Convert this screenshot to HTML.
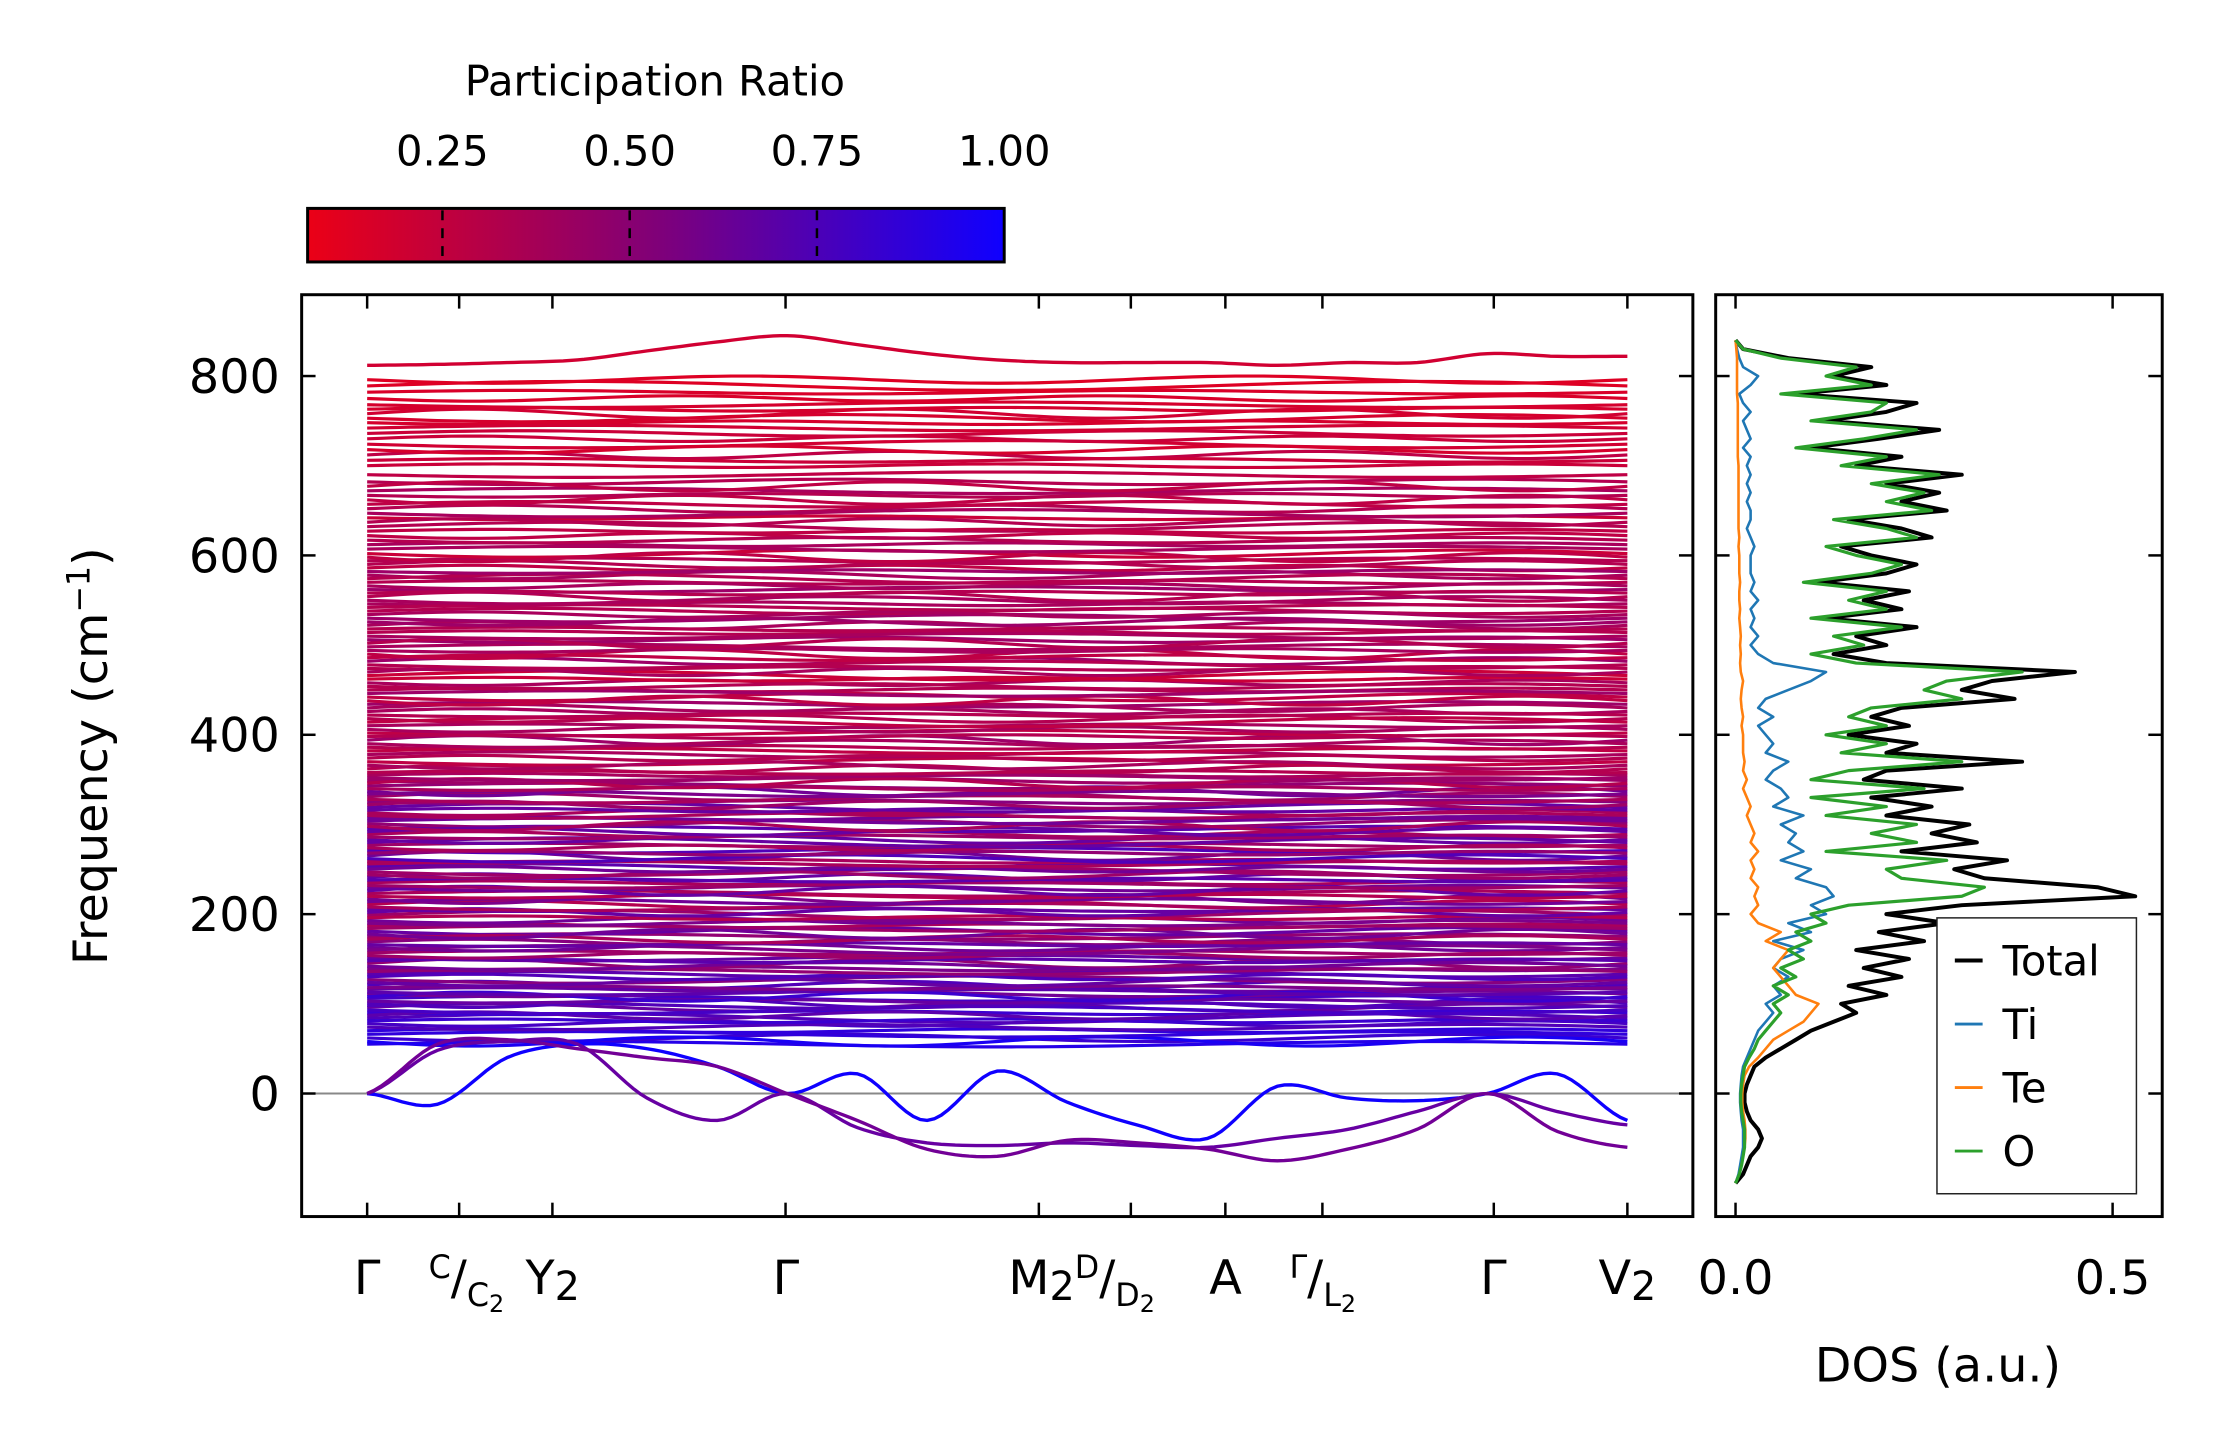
<!DOCTYPE html>
<html><head><meta charset="utf-8"><style>
html,body{margin:0;padding:0;background:#fff}
svg{display:block;font-family:"DejaVu Sans","Liberation Sans",sans-serif}
</style></head><body>
<svg id="fig" width="2222" height="1455" viewBox="0 0 2222 1455" xmlns="http://www.w3.org/2000/svg">
<defs>
<linearGradient id="cbg" x1="0" x2="1" y1="0" y2="0">
<stop offset="0" stop-color="rgb(235,0,22)"/>
<stop offset="0.5" stop-color="rgb(128,0,120)"/>
<stop offset="1" stop-color="rgb(15,0,255)"/>
</linearGradient>
<clipPath id="mainclip"><rect x="304" y="297" width="1402" height="929"/></clipPath>
<clipPath id="dosclip"><rect x="1729" y="297" width="450" height="929"/></clipPath>
</defs>
<g id="root" transform="scale(0.9923)">
<g id="colorbar">
<text x="660" y="96" font-size="42" text-anchor="middle">Participation Ratio</text>
<rect x="310" y="210" width="702" height="54" fill="url(#cbg)" stroke="#000" stroke-width="3"/>
</g>
<g id="bands" clip-path="url(#mainclip)"></g>
<g id="mainaxes"></g>
<g id="dos" clip-path="url(#dosclip)"></g>
<g id="dosaxes"></g>
<text transform="translate(108,762) rotate(-90)" font-size="48" text-anchor="middle">Frequency (cm<tspan dy="-18" font-size="32">−1</tspan><tspan dy="18">)</tspan></text>
<text x="1953" y="1392" font-size="48" text-anchor="middle">DOS (a.u.)</text>
</g>
</svg>
<script>
const NS="http://www.w3.org/2000/svg";
// ---- data ----
const cbTicks=[0.25,0.5,0.75,1.0];
const cbTickLabels=["0.25","0.50","0.75","1.00"];
const yTicks=[0,200,400,600,800];
const kNodes=[0,0.073,0.147,0.332,0.533,0.606,0.681,0.758,0.894,1.0];
const kLabels=["Γ","C","Y2","Γ","M2","D","A","Γ/L2","Γ","V2"];
const baseFreqs=[55,62,70,78,84,90,96,101,106,111,116,121,127,133,139,145,151,157,163,169,175,181,187,193,199,205,211,217,223,229,235,241,247,253,259,265,271,277,283,289,295,301,307,313,319,325,331,337,343,349,355,362,370,378,386,394,402,410,418,426,434,442,450,458,466,474,482,490,498,506,514,522,530,538,546,554,562,570,578,586,594,602,612,622,632,642,652,662,672,682,700,712,724,736,748,758,768,782,796];
const baseFreqs2=[58,66,74,81,87,93,98,103,108,113,118,124,130,136,142,148,154,160,166,172,178,184,190,196,202,208,214,220,226,232,238,244,250,256,262,268,274,280,286,292,298,304,310,316,322,328,334,340,346,352,358,366,374,382,390,398,406,414,422,430,438,446,454,462,470,478,486,494,502,510,518,526,534,542,550,558,566,574,582,590,598,607,617,627,637,647,657,667,677,690,706,718,730,742,753,763,775,789];
const bandWiggle=[3,-4,2,-3,5,-2,4,-5,3,-3,2,4,-4,3,-2,5,-3,2,-4,3];
const bandPR=[0.9,0.8,0.85,0.75,0.7,0.8,0.6,0.7,0.75,0.55,
0.6,0.7,0.45,0.65,0.5,0.4,0.6,0.35,0.55,0.45,
0.4,0.6,0.3,0.55,0.35,0.6,0.25,0.5,0.3,0.55,
0.3,0.6,0.35,0.65,0.3,0.55,0.7,0.35,0.6,0.3,
0.65,0.4,0.55,0.3,0.6,0.45,0.35,0.55,0.4,0.35,
0.3,0.25,0.2,0.3,0.25,0.35,0.2,0.3,0.25,0.3,
0.35,0.2,0.25,0.3,0.15,0.25,0.35,0.2,0.3,0.35,
0.25,0.3,0.35,0.25,0.3,0.25,0.35,0.25,0.3,0.2,
0.25,0.15,0.3,0.2,0.25,0.15,0.25,0.2,0.3,0.25,
0.15,0.2,0.12,0.15,0.1,0.12,0.1,0.08,0.06];
const bandPR2=[0.95,0.85,0.7,0.8,0.65,0.75,0.7,0.6,0.8,0.65,
0.5,0.6,0.7,0.4,0.55,0.65,0.35,0.5,0.6,0.3,
0.55,0.35,0.5,0.25,0.6,0.3,0.55,0.25,0.6,0.35,
0.65,0.35,0.55,0.3,0.7,0.4,0.3,0.6,0.35,0.6,
0.3,0.55,0.3,0.6,0.35,0.3,0.5,0.3,0.25,0.35,
0.25,0.3,0.25,0.2,0.3,0.25,0.3,0.2,0.25,0.3,
0.2,0.35,0.25,0.15,0.3,0.25,0.2,0.3,0.25,0.3,
0.25,0.35,0.3,0.25,0.3,0.25,0.3,0.25,0.35,0.25,
0.2,0.3,0.25,0.2,0.25,0.3,0.2,0.25,0.2,0.2,
0.15,0.1,0.15,0.12,0.1,0.1,0.08,0.06];
// special bands sampled at 19 evenly spaced k points
const specK=[0,0.0556,0.111,0.167,0.222,0.278,0.333,0.389,0.444,0.5,0.556,0.611,0.667,0.722,0.778,0.833,0.889,0.944,1.0];
const specBand1=[0,-12,40,55,50,30,0,22,-30,25,-10,-35,-50,8,-5,-8,0,22,-30];
const specBand2=[0,48,58,55,-5,-30,0,-38,-55,-58,-55,-58,-60,-50,-40,-20,0,-20,-35];
const specBand3=[0,55,60,50,40,30,0,-30,-62,-70,-52,-55,-62,-75,-62,-40,0,-42,-60];
const specBand4=[812,813,815,818,828,838,845,835,825,818,815,815,815,812,815,815,825,822,822];
const specPR=[1.0,0.6,0.55,0.12];
const dosFreq0=-100, dosStep=10;
const dosTotal=[0,0.01,0.015,0.02,0.03,0.035,0.03,0.02,0.015,0.012,
0.012,0.015,0.02,0.025,0.04,0.06,0.08,0.1,0.13,0.16,
0.14,0.2,0.15,0.22,0.17,0.23,0.16,0.25,0.19,0.28,
0.2,0.3,0.53,0.48,0.33,0.29,0.36,0.22,0.32,0.26,
0.31,0.2,0.26,0.18,0.3,0.17,0.2,0.38,0.2,0.24,
0.15,0.23,0.18,0.22,0.37,0.3,0.34,0.45,0.2,0.13,
0.2,0.16,0.24,0.12,0.22,0.17,0.23,0.11,0.2,0.24,
0.18,0.14,0.26,0.22,0.15,0.28,0.22,0.27,0.2,0.3,
0.16,0.22,0.1,0.19,0.27,0.12,0.2,0.24,0.08,0.2,
0.13,0.18,0.07,0.01,0];
const dosO=[0,0.005,0.008,0.01,0.012,0.012,0.012,0.01,0.008,0.007,
0.007,0.008,0.01,0.012,0.018,0.025,0.03,0.04,0.05,0.06,
0.05,0.07,0.05,0.08,0.06,0.09,0.07,0.1,0.08,0.12,
0.1,0.15,0.3,0.33,0.22,0.2,0.28,0.12,0.24,0.18,
0.24,0.12,0.2,0.1,0.25,0.1,0.15,0.3,0.14,0.2,
0.12,0.2,0.15,0.18,0.3,0.25,0.28,0.38,0.16,0.1,
0.17,0.13,0.22,0.1,0.2,0.15,0.2,0.09,0.18,0.22,
0.16,0.12,0.24,0.2,0.13,0.26,0.2,0.25,0.18,0.27,
0.14,0.2,0.08,0.17,0.24,0.1,0.18,0.2,0.06,0.18,
0.12,0.16,0.06,0.01,0];
const dosTi=[0,0.004,0.006,0.008,0.01,0.01,0.01,0.008,0.007,0.006,
0.006,0.007,0.008,0.01,0.015,0.02,0.025,0.03,0.04,0.05,
0.04,0.06,0.05,0.07,0.05,0.06,0.09,0.05,0.1,0.07,
0.12,0.1,0.13,0.12,0.08,0.1,0.06,0.09,0.07,0.08,
0.06,0.09,0.05,0.07,0.06,0.04,0.05,0.07,0.04,0.05,
0.04,0.03,0.05,0.03,0.04,0.07,0.1,0.12,0.05,0.03,
0.02,0.03,0.02,0.025,0.02,0.03,0.02,0.025,0.02,0.02,
0.02,0.025,0.02,0.015,0.02,0.02,0.015,0.02,0.015,0.02,
0.015,0.02,0.01,0.02,0.015,0.01,0.02,0.01,0.005,0.02,
0.03,0.01,0.005,0.002,0];
const dosTe=[0,0.005,0.008,0.01,0.012,0.013,0.013,0.012,0.01,0.009,
0.009,0.01,0.012,0.018,0.03,0.04,0.05,0.07,0.09,0.1,
0.11,0.08,0.07,0.06,0.05,0.06,0.07,0.04,0.06,0.03,
0.02,0.03,0.025,0.03,0.02,0.025,0.02,0.03,0.02,0.025,
0.02,0.015,0.02,0.015,0.01,0.015,0.01,0.012,0.01,0.01,
0.01,0.008,0.01,0.008,0.007,0.008,0.01,0.007,0.006,0.007,
0.006,0.007,0.006,0.005,0.006,0.005,0.005,0.006,0.005,0.005,
0.005,0.004,0.005,0.004,0.004,0.004,0.004,0.004,0.004,0.004,
0.004,0.003,0.003,0.003,0.003,0.003,0.003,0.003,0.002,0.002,
0.002,0.002,0.002,0.001,0];
const dosTicks=[0,0.5];
const dosTickLabels=["0.0","0.5"];
const legendNames=["Total","Ti","Te","O"];
const legendColors=["#000","#1f77b4","#ff7f0e","#2ca02c"];
// ---- scales ----
const yS=f=>1102-(f)*0.9038;
const kX=k=>370+k*1270;
const dX=d=>1749+d*760;
const cbX=v=>310+(v-0.07)/(0.93)*702;
function prColor(p){p=Math.max(0,Math.min(1,p));const r=Math.round(235+(15-235)*p),b=Math.round(22+(255-22)*p);return `rgb(${r},0,${b})`;}
function el(tag,attrs,parent){const e=document.createElementNS(NS,tag);for(const a in attrs)e.setAttribute(a,attrs[a]);parent.appendChild(e);return e;}
const root=document.getElementById('root');
// colorbar ticks
const cb=document.getElementById('colorbar');
cbTicks.forEach((t,i)=>{const x=cbX(t);
 if(t<1){const l=el('line',{x1:x,x2:x,y1:212,y2:262,stroke:'#000','stroke-width':2.5,'stroke-dasharray':'10,8'},cb);
 
 }
 const tx=el('text',{x:x,y:167,'font-size':42,'text-anchor':'middle'},cb);tx.textContent=cbTickLabels[i];
 
 
});
// bands
const bg=document.getElementById('bands');
const zl=el('line',{x1:304,x2:1706,y1:yS(0),y2:yS(0),stroke:'#888','stroke-width':2},bg);


const N=90;
function drawSet(freqs,prs,phase){
 freqs.forEach((f,i)=>{const w=bandWiggle[(i+phase)%bandWiggle.length];let d='';
  for(let j=0;j<=N;j++){const k=j/N;const y=f+w*Math.sin(k*Math.PI*(3+((i+phase)%4)));d+=(j?'L':'M')+kX(k).toFixed(1)+','+yS(y).toFixed(1);}
  const p=el('path',{d:d,fill:'none',stroke:prColor(prs[i]),'stroke-width':3.2},bg);
  
  
 });
}
drawSet(baseFreqs,bandPR,0);
drawSet(baseFreqs2,bandPR2,7);
function interp(ks,vs,k){let i=0;while(i<ks.length-2&&k>ks[i+1])i++;const t=(k-ks[i])/(ks[i+1]-ks[i]);
 const p0=vs[Math.max(0,i-1)],p1=vs[i],p2=vs[i+1],p3=vs[Math.min(vs.length-1,i+2)];
 return 0.5*((2*p1)+(-p0+p2)*t+(2*p0-5*p1+4*p2-p3)*t*t+(-p0+3*p1-3*p2+p3)*t*t*t);}
[specBand1,specBand2,specBand3,specBand4].forEach((vs,si)=>{let d='';
 for(let j=0;j<=180;j++){const k=j/180;d+=(j?'L':'M')+kX(k).toFixed(1)+','+yS(interp(specK,vs,k)).toFixed(1);}
 const p=el('path',{d:d,fill:'none',stroke:prColor(specPR[si]),'stroke-width':3.4},bg);
 
 
});
// main axes
const ma=document.getElementById('mainaxes');
el('rect',{x:304,y:297,width:1402,height:929,fill:'none',stroke:'#000','stroke-width':3},ma);
kNodes.forEach((k,i)=>{const x=kX(k);
 el('line',{x1:x,x2:x,y1:1226,y2:1212,stroke:'#000','stroke-width':2.5},ma);
 el('line',{x1:x,x2:x,y1:297,y2:311,stroke:'#000','stroke-width':2.5},ma);
});
yTicks.forEach(t=>{const y=yS(t);
 el('line',{x1:304,x2:318,y1:y,y2:y,stroke:'#000','stroke-width':2.5},ma);
 el('line',{x1:1706,x2:1692,y1:y,y2:y,stroke:'#000','stroke-width':2.5},ma);
 const tx=el('text',{x:282,y:y+17,'font-size':48,'text-anchor':'end'},ma);tx.textContent=String(t);
 
 
});
// k labels
const kl=[
 [0,'<tspan>Γ</tspan>'],
 [1,'<tspan dy="-16" font-size="32">C</tspan><tspan dy="16">/</tspan><tspan dy="12" font-size="32">C</tspan><tspan dy="6" font-size="24">2</tspan>'],
 [2,'<tspan>Y</tspan><tspan dy="6" font-size="40">2</tspan>'],
 [3,'<tspan>Γ</tspan>'],
 [4,'<tspan>M</tspan><tspan dy="6" font-size="40">2</tspan><tspan dy="-22" font-size="32">D</tspan><tspan dy="16">/</tspan><tspan dy="12" font-size="32">D</tspan><tspan dy="6" font-size="24">2</tspan>'],
 [6,'<tspan>A</tspan>'],
 [7,'<tspan dy="-16" font-size="32">Γ</tspan><tspan dy="16">/</tspan><tspan dy="12" font-size="32">L</tspan><tspan dy="6" font-size="24">2</tspan>'],
 [8,'<tspan>Γ</tspan>'],
 [9,'<tspan>V</tspan><tspan dy="6" font-size="40">2</tspan>']];
const klx={0:370,1:470,2:557,3:792,4:1090,6:1235,7:1333,8:1505,9:1640};
kl.forEach(([i,h])=>{const t=el('text',{x:klx[i],y:1304,'font-size':48,'text-anchor':'middle'},ma);t.innerHTML=h;
 
 
});
// DOS
const dg=document.getElementById('dos');
[[dosTotal,'#000',4],[dosTi,'#1f77b4',2.6],[dosTe,'#ff7f0e',2.6],[dosO,'#2ca02c',3.2]].forEach(([arr,c,w],si)=>{let d='';
 arr.forEach((v,i)=>{d+=(i?'L':'M')+dX(v).toFixed(1)+','+yS(dosFreq0+i*dosStep).toFixed(1);});
 const p=el('path',{d:d,fill:'none',stroke:c,'stroke-width':w,'stroke-linejoin':'round'},dg);
 
 
});
const da=document.getElementById('dosaxes');
el('rect',{x:1729,y:297,width:450,height:929,fill:'none',stroke:'#000','stroke-width':3},da);
yTicks.forEach(t=>{const y=yS(t);
 el('line',{x1:1729,x2:1743,y1:y,y2:y,stroke:'#000','stroke-width':2.5},da);
 el('line',{x1:2179,x2:2165,y1:y,y2:y,stroke:'#000','stroke-width':2.5},da);
});
dosTicks.forEach((t,i)=>{const x=dX(t);
 el('line',{x1:x,x2:x,y1:1226,y2:1212,stroke:'#000','stroke-width':2.5},da);
 el('line',{x1:x,x2:x,y1:297,y2:311,stroke:'#000','stroke-width':2.5},da);
 const tx=el('text',{x:x,y:1304,'font-size':48,'text-anchor':'middle'},da);tx.textContent=dosTickLabels[i];
 
 
});
// legend
const lg=el('g',{},root);


el('rect',{x:1952,y:925,width:201,height:278,fill:'#fff',stroke:'#222','stroke-width':1.5},lg);
legendNames.forEach((n,i)=>{const y=968+i*64;
 el('line',{x1:1970,x2:1998,y1:y,y2:y,stroke:legendColors[i],'stroke-width':i?3:4},lg);
 const t=el('text',{x:2018,y:y+15,'font-size':42},lg);t.textContent=n;
 
 
});
</script>
</body></html>
